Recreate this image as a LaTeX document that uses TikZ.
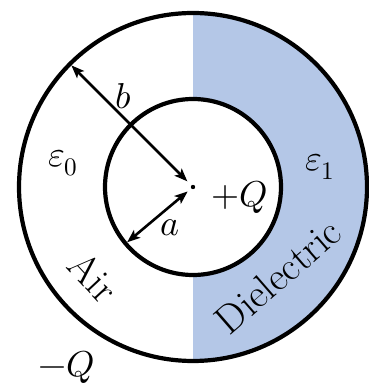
\documentclass[tikz,border=0pt]{standalone}
\usepackage{unicode-math}
\setmathfont{Latin Modern Math}
\usetikzlibrary{arrows.meta}
\definecolor{diel}{RGB}{180,199,231}
\begin{document}
\begin{tikzpicture}[x=1pt,y=1pt,
  lbl/.style={inner sep=0pt,font=\fontsize{36}{40}\selectfont},
  big/.style={inner sep=0pt,font=\fontsize{40}{44}\selectfont},
  arr/.style={line width=2.6pt,{Stealth[length=13pt,width=10pt,inset=3pt]}-{Stealth[length=13pt,width=10pt,inset=3pt]}},
  ring/.style={line width=4.2pt}]
\useasboundingbox (0,0) rectangle (368,383);
\fill[white] (0,0) rectangle (368,383);
\coordinate (O) at (193,196);
\fill[diel] (193,22) arc[start angle=-90,end angle=90,radius=174] -- cycle;
\fill[white] (O) circle[radius=88];
\draw[ring] (O) circle[radius=174];
\draw[ring] (O) circle[radius=88];
\path (O) ++(135:172) coordinate (Bp);
\path (O) ++(220:86) coordinate (Ap);
\fill (O) circle[radius=2.2];
\draw[arr,shorten >=8pt] (Bp) -- (O);
\draw[arr,shorten >=7pt] (Ap) -- (O);
\node[lbl] (lb) at (123,287) {$b$};
\node[lbl] (le0) at (63,220) {$\varepsilon_0$};
\node[lbl] (le1) at (320,216) {$\varepsilon_1$};
\node[lbl] (lq) at (240,186) {$+Q$};
\node[lbl] (la) at (170,155) {$a$};
\node[big,rotate=-47] (lair) at (94,106) {Air};
\node[big,rotate=41] (ldiel) at (278,107) {Dielectric};
\node[lbl] (lmq) at (67,16) {$-Q$};
\end{tikzpicture}
\end{document}
